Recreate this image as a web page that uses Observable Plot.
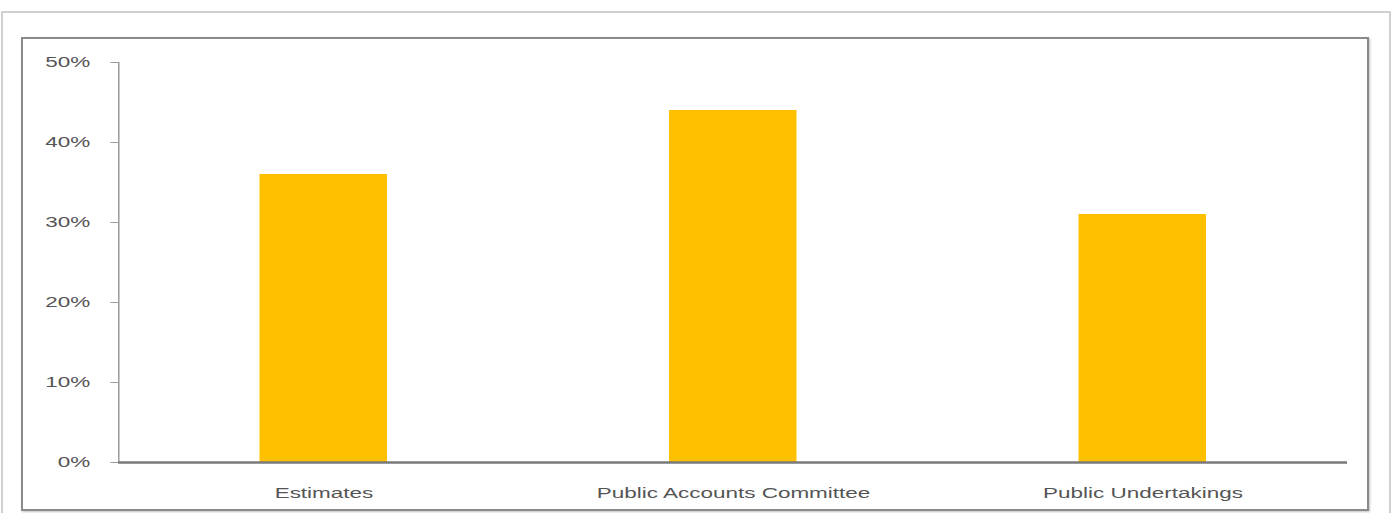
<!DOCTYPE html>
<html>
<head>
<meta charset="utf-8">
<script src="https://cdn.jsdelivr.net/npm/d3@7"></script>
<script src="https://cdn.jsdelivr.net/npm/@observablehq/plot@0.6"></script>
<style>
  html, body { margin: 0; padding: 0; background: #fff; }
  #wrap { position: relative; width: 1395px; height: 513px; overflow: hidden; background: #fff; }
  #outer { position: absolute; left: 1px; top: 11px; width: 1390px; height: 520px; border: 2px solid #cfcfcf; box-sizing: border-box; pointer-events: none; }
  #inner { position: absolute; left: 21px; top: 37px; width: 1348px; height: 474px; border: 2px solid #8a8a8a; box-sizing: border-box; box-shadow: 1px 1px 2px rgba(0,0,0,0.25); pointer-events: none; }
  #chart { position: absolute; left: 0; top: 0; }
</style>
</head>
<body>
<div id="wrap">
  <div id="chart"></div>
  <div id="outer"></div>
  <div id="inner"></div>
</div>
<script>
const categories = ["Estimates", "Public Accounts Committee", "Public Undertakings"];
const values = [0.36, 0.44, 0.31];
const yTicks = [0, 0.1, 0.2, 0.3, 0.4, 0.5];

const data = categories.map((c, i) => ({category: c, value: values[i]}));

// The reference image is horizontally stretched by ~1.5; draw at narrower width then stretch.
const stretch = 1.5;
const W = 1395 / stretch;
const H = 513;

const plot = Plot.plot({
  width: W,
  height: H,
  marginLeft: 78.7,
  marginRight: 32,
  marginTop: 62,
  marginBottom: 51,
  style: {fontFamily: "'Liberation Sans', Arial, sans-serif", background: "transparent"},
  x: {domain: categories, paddingInner: 0.687, paddingOuter: 0.3435, label: null},
  y: {domain: [0, 0.5], label: null},
  marks: [
    Plot.frame({anchor: "left", stroke: "#9a9a9a", strokeWidth: 1}),
    Plot.barY(data, {x: "category", y: "value", fill: "#FFC000"}),
    Plot.ruleY([0], {stroke: "#7a7a7a", strokeWidth: 2.5}),
    Plot.axisY({ticks: yTicks, tickFormat: d3.format(".0%"), tickSize: 5, tickPadding: 14, stroke: "#9a9a9a", fill: "#555", fontSize: 15, label: null}),
    Plot.axisX({tickSize: 0, tickPadding: 25, fill: "#555", fontSize: 15, label: null})
  ]
});

plot.setAttribute("width", 1395);
plot.setAttribute("height", H);
plot.setAttribute("preserveAspectRatio", "none");
plot.style.width = "1395px";
plot.style.height = H + "px";
plot.style.maxWidth = "none";
plot.style.overflow = "visible";
document.getElementById("chart").appendChild(plot);
</script>
</body>
</html>
